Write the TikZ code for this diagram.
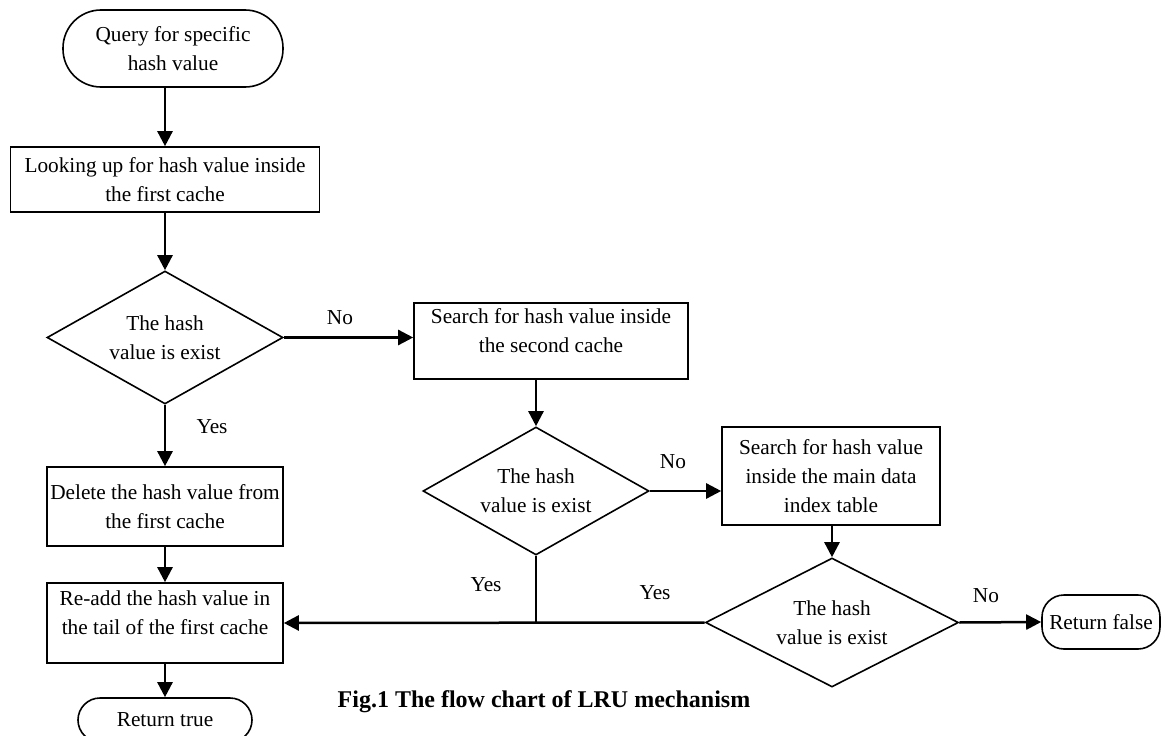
\documentclass[tikz,border=0pt]{standalone}
\usepackage{fontspec}
\setmainfont{Liberation Serif}
\usetikzlibrary{shapes.geometric,arrows.meta}

\begin{document}
\begin{tikzpicture}[x=1pt, y=-1pt, >={Triangle[length=15pt,width=15pt]},
  font=\fontsize{21.3}{29}\selectfont,
  box/.style={draw, line width=1.6pt, align=center, inner sep=2pt},
  term/.style={draw, line width=1.6pt, align=center, rounded corners=22pt},
  test/.style={draw, diamond, line width=1.6pt, align=center, inner sep=0pt, aspect=1.8},
  flow/.style={->, line width=2.5pt},
  lbl/.style={inner sep=0pt}]
\useasboundingbox (0,0) rectangle (1163,736);
% left column
\node[term, rounded corners=38pt, minimum width=220, minimum height=77] (query) at (173,48.5) {Query for specific\\hash value};
\node[box, minimum width=309, minimum height=65] (first) at (165,179.5) {Looking up for hash value inside\\the first cache};
\node[test, minimum width=236, minimum height=133] (hit1) at (165,337.5) {The hash\\value is exist};
\node[box, minimum width=236, minimum height=79] (delete) at (165,506.5) {Delete the hash value from\\the first cache};
\node[box, minimum width=236, minimum height=80] (readd) at (165,623) {};
\node[lbl, align=center] (readdtxt) at (165,613) {Re-add the hash value in\\the tail of the first cache};
\node[term, minimum width=174, minimum height=44] (rettrue) at (165,720) {Return true};
% second cache
\node[box, minimum width=274, minimum height=76] (second) at (551,341) {};
\node[lbl, align=center] (secondtxt) at (551,331) {Search for hash value inside\\the second cache};
\node[test, minimum width=226, minimum height=128] (hit2) at (536,491) {The hash\\value is exist};
% main index table
\node[box, minimum width=218, minimum height=98] (table) at (831,476) {Search for hash value\\inside the main data\\index table};
\node[test, minimum width=253, minimum height=129] (hit3) at (832,622.5) {The hash\\value is exist};
\node[term, minimum width=118, minimum height=54] (retfalse) at (1101,622) {Return false};
% connectors
\draw[flow] (first.north |- query.south) -- (first.north);
\draw[flow] (first.south) -- (hit1.north);
\draw[flow] (hit1.east) -- (hit1.east -| second.west);
\draw[flow] (hit1.south) -- (delete.north);
\draw[flow] (delete.south) -- (readd.north);
\draw[flow] (readd.south) -- (rettrue.north);
\draw[flow] (hit2.north |- second.south) -- (hit2.north);
\draw[flow] (hit2.east) -- (hit2.east -| table.west);
\coordinate (join) at (hit2.south |- readd.east);
\draw[line width=1.6pt] (hit2.south) -- (join);
\draw[flow] (hit3.north |- table.south) -- (hit3.north);
\draw[flow] (hit3.east) -- (retfalse.west);
\draw[flow] (hit3.west) -- (readd.east);
% branch labels
\node[lbl] (no1) at (340,318) {No};
\node[lbl] (yes1) at (212,427) {Yes};
\node[lbl] (no2) at (673,462) {No};
\node[lbl] (yes2) at (486,585) {Yes};
\node[lbl] (yes3) at (655,593) {Yes};
\node[lbl] (no3) at (986,596) {No};
% caption
\node[font=\fontsize{24}{28}\selectfont\bfseries] (caption) at (544,702) {Fig.1 The flow chart of LRU mechanism};
\end{tikzpicture}
\end{document}
